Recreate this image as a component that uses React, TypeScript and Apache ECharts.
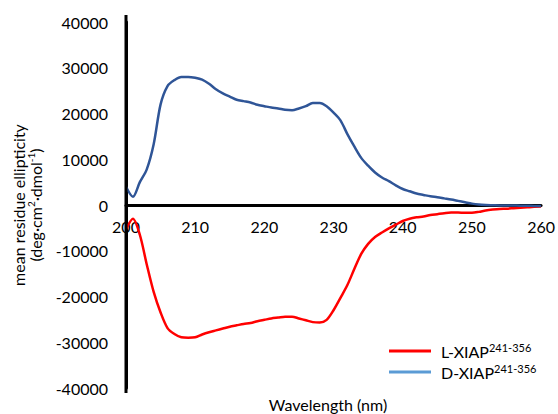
import React, { useEffect, useRef } from "react";
import * as echarts from "echarts";

const wavelengths: number[] = [];
for (let w = 200; w <= 260; w++) wavelengths.push(w);

const lXiap = [
  -5300, -3000, -6500, -13000, -19000, -23500, -26900, -28200, -28900, -29000,
  -28900, -28300, -27800, -27400, -27000, -26600, -26300, -26000, -25800, -25400,
  -25100, -24800, -24600, -24400, -24400, -24800, -25200, -25600, -25700, -25100,
  -23000, -20300, -17500, -14000, -10700, -8500, -7000, -6000, -5100, -4300,
  -3500, -3000, -2700, -2500, -2200, -2000, -1800, -1650, -1650, -1700,
  -1700, -1500, -1200, -1000, -850, -800, -700, -600, -500, -400, -350,
];

const dXiap = [
  4000, 1800, 5000, 7800, 13300, 22000, 26000, 27300, 28000, 28000,
  27800, 27400, 26500, 25300, 24400, 23700, 23000, 22700, 22400, 21900,
  21600, 21300, 21100, 20800, 20700, 21100, 21600, 22300, 22300, 21600,
  20200, 18500, 15500, 12800, 10300, 8600, 7100, 6000, 5200, 4300,
  3500, 3000, 2500, 2200, 1900, 1700, 1450, 1200, 900, 600,
  300, 100, 0, -50, -100, -100, -100, -150, -150, -200, -200,
];

const seriesNames = ["L-XIAP", "D-XIAP"];
const superscript = "241-356";
const xTicks = { min: 200, max: 260, interval: 10 };
const yTicks = { min: -40000, max: 40000, interval: 10000 };

const FONT = "Lato, 'Open Sans', sans-serif";

export default function App() {
  const ref = useRef<HTMLDivElement>(null);
  useEffect(() => {
    if (!ref.current) return;
    const chart = echarts.init(ref.current, undefined, { renderer: "svg" });
    chart.setOption({
      animation: false,
      textStyle: { fontFamily: FONT },
      grid: { left: 126, right: 15, top: 22, bottom: 26 },
      xAxis: {
        type: "value",
        min: xTicks.min,
        max: xTicks.max,
        interval: xTicks.interval,
        offset: -183,
        axisLine: { onZero: false, lineStyle: { color: "#000", width: 3 } },
        axisTick: { show: false },
        splitLine: { show: false },
        axisLabel: { color: "#000", fontSize: 16, margin: 13, fontFamily: FONT },
      },
      yAxis: {
        type: "value",
        min: yTicks.min,
        max: yTicks.max,
        interval: yTicks.interval,
        axisLine: { show: true, lineStyle: { color: "#000", width: 3 } },
        axisTick: { show: false },
        splitLine: { show: false },
        axisLabel: {
          color: "#000",
          fontSize: 16,
          margin: 18,
          fontFamily: FONT,
          formatter: (v: number) => String(v),
        },
      },
      legend: {
        orient: "vertical",
        left: 384,
        top: 337,
        itemWidth: 42,
        itemHeight: 3,
        itemGap: 4,
        icon: "rect",
        data: [
          { name: seriesNames[0], itemStyle: { color: "#FF0000" } },
          { name: seriesNames[1], itemStyle: { color: "#5B9BD5" } },
        ],
        formatter: (name: string) => `{a|${name}}{s|${superscript}}`,
        textStyle: {
          color: "#000",
          rich: {
            a: { fontSize: 16, fontFamily: FONT, lineHeight: 18, padding: [0, 0, 0, 5] },
            s: { fontSize: 11, fontFamily: FONT, verticalAlign: "top", lineHeight: 12 },
          },
        },
      },
      series: [
        {
          name: seriesNames[0],
          type: "line",
          data: wavelengths.map((w, i) => [w, lXiap[i]]),
          showSymbol: false,
          smooth: 0.3,
          lineStyle: { color: "#FF0000", width: 2.5 },
          itemStyle: { color: "#FF0000" },
        },
        {
          name: seriesNames[1],
          type: "line",
          data: wavelengths.map((w, i) => [w, dXiap[i]]),
          showSymbol: false,
          smooth: 0.3,
          lineStyle: { color: "#2F5597", width: 2.5 },
          itemStyle: { color: "#2F5597" },
        },
      ],
      graphic: [
        {
          type: "line",
          shape: { x1: 126, y1: 15, x2: 126, y2: 393 },
          style: { stroke: "#000", lineWidth: 3 },
          z: 10,
        },
        {
          type: "text",
          x: 18,
          y: 205,
          rotation: Math.PI / 2,
          style: {
            text: "mean residue ellipticity",
            fontSize: 16,
            fontFamily: FONT,
            fill: "#000",
            align: "center",
            verticalAlign: "middle",
          },
        },
        {
          type: "text",
          x: 35,
          y: 205,
          rotation: Math.PI / 2,
          style: {
            text: "{a|(deg·cm}{s|2}{a|·dmol}{s|-1}{a|)}",
            fontSize: 16,
            fontFamily: FONT,
            fill: "#000",
            align: "center",
            verticalAlign: "middle",
            rich: {
              a: { fontSize: 16, fontFamily: FONT, lineHeight: 18 },
              s: { fontSize: 10, fontFamily: FONT, verticalAlign: "top", lineHeight: 11 },
            },
          },
        },
        {
          type: "text",
          x: 328,
          y: 404,
          style: {
            text: "Wavelength (nm)",
            fontSize: 16,
            fontFamily: FONT,
            fill: "#000",
            align: "center",
            verticalAlign: "middle",
          },
        },
      ],
    });
    return () => chart.dispose();
  }, []);
  return <div ref={ref} style={{ width: 558, height: 414, position: "absolute", left: 0, top: 0 }} />;
}
